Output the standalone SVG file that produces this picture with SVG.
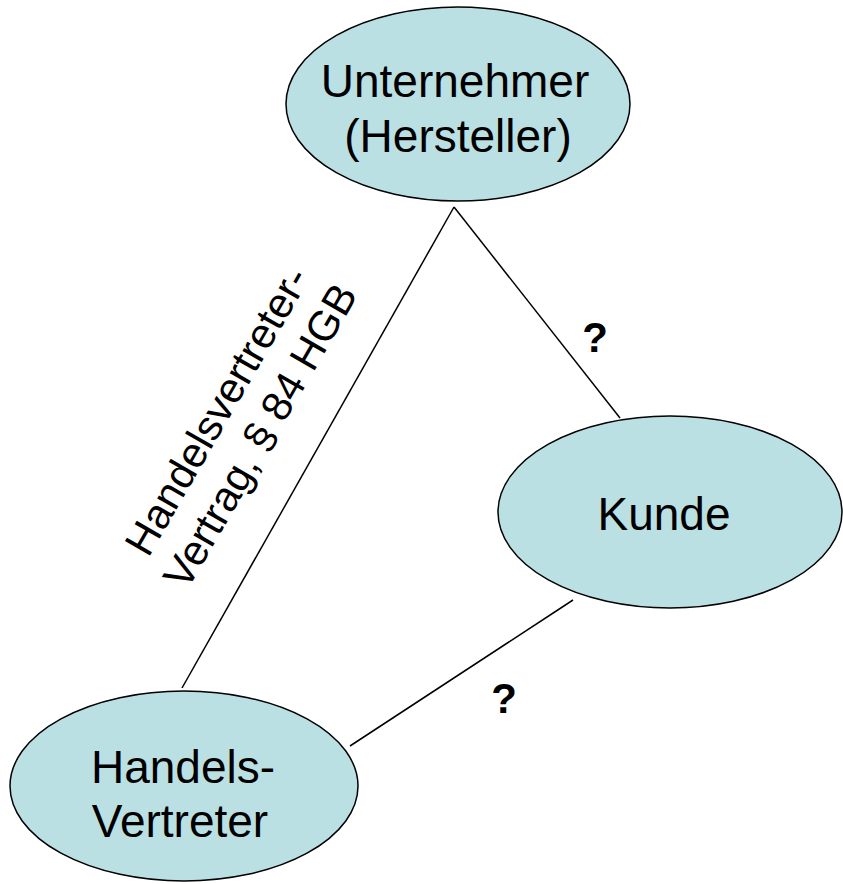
<svg xmlns="http://www.w3.org/2000/svg" width="843" height="884" viewBox="0 0 843 884">
<style>
.node{fill:#BBE0E3;stroke:#000;stroke-width:1.5}
.lbl{font-family:"Liberation Sans",Arial,sans-serif;font-size:46px;fill:#000;text-anchor:middle}
.q{font-family:"Liberation Sans",Arial,sans-serif;font-size:42px;font-weight:bold;fill:#000;text-anchor:middle}
.edge{stroke:#000;stroke-width:1.5;fill:none}
.rot{font-family:"Liberation Sans",Arial,sans-serif;font-size:42px;fill:#000;text-anchor:middle}
</style>
<rect width="843" height="884" fill="#fff"/>
<g id="connectors">
<line class="edge" x1="454" y1="207" x2="182" y2="688"/>
<line class="edge" x1="454" y1="207" x2="620" y2="418"/>
<line class="edge" x1="573" y1="600" x2="350" y2="746"/>
<text class="q" x="595" y="352">?</text>
<text class="q" x="504" y="713">?</text>
<g transform="translate(238,423) rotate(-60)">
<text class="rot" x="0" y="-10">Handelsvertreter-</text>
<text class="rot" x="0" y="40">Vertrag, § 84 HGB</text>
</g>
</g>
<g id="unternehmer">
<ellipse class="node" cx="458" cy="104" rx="172" ry="97"/>
<text class="lbl" x="455" y="97">Unternehmer</text>
<text class="lbl" x="458" y="152">(Hersteller)</text>
</g>
<g id="kunde">
<ellipse class="node" cx="670" cy="512" rx="172" ry="96"/>
<text class="lbl" x="664" y="530">Kunde</text>
</g>
<g id="handelsvertreter">
<ellipse class="node" cx="184" cy="786" rx="174" ry="95"/>
<text class="lbl" x="183" y="783">Handels-</text>
<text class="lbl" x="180" y="837">Vertreter</text>
</g>
</svg>
